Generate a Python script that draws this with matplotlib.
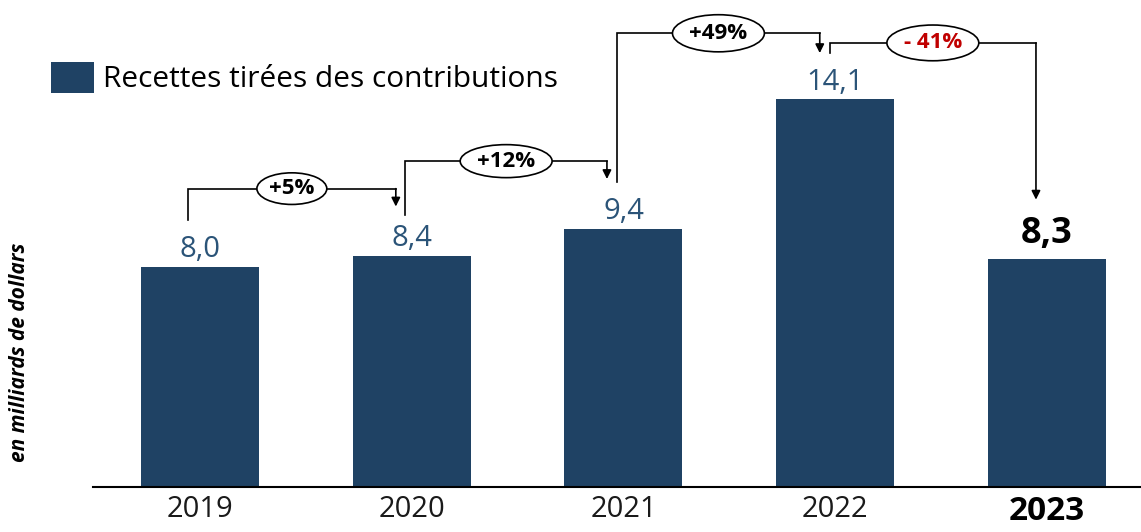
import matplotlib.pyplot as plt
from matplotlib.patches import Ellipse

# data
years = ["2019", "2020", "2021", "2022", "2023"]
values = [8.0, 8.4, 9.4, 14.1, 8.3]
value_labels = ["8,0", "8,4", "9,4", "14,1", "8,3"]
changes = ["+5%", "+12%", "+49%", "- 41%"]
change_colors = ["black", "black", "black", "#c00000"]
legend_label = "Recettes tirées des contributions"
y_label = "en milliards de dollars"

BAR_COLOR = "#1f4264"
LABEL_COLOR = "#2b5478"

plt.rcParams["font.family"] = ["Open Sans", "DejaVu Sans"]

W, H = 1141, 532
fig = plt.figure(figsize=(W / 100, H / 100), dpi=100)
ax = fig.add_axes([93 / W, 45 / H, 1048 / W, 487 / H])

x = list(range(len(years)))
bars = ax.bar(x, values, width=0.557, color=BAR_COLOR, label=legend_label, zorder=2)
ax.set_xlim(-0.505, 4.444)
ax.set_ylim(0, 17.71)

# value labels above the bars (last one highlighted)
for i, (v, lab) in enumerate(zip(values, value_labels)):
    last = i == len(values) - 1
    ax.annotate(
        lab,
        xy=(i, v),
        xytext=(0, 11.5 if last else 7),
        textcoords="offset points",
        ha="center",
        va="baseline",
        fontsize=26 if last else 21,
        fontweight="bold" if last else "normal",
        color="black" if last else LABEL_COLOR,
    )

# change connectors between consecutive bars
start_dx = [-0.057, -0.03, -0.03, -0.026]
end_dx = [-0.075, -0.078, -0.073, -0.052]
start_gap = [1.7, 1.5, 1.7, 1.7]
tip_gap = [1.8, 1.8, 1.68, 2.15]
link_gap = [2.45, 2.45, 2.4, 2.05]
oval_w = [0.33, 0.434, 0.434, 0.434]
oval_h = [1.15, 1.2, 1.35, 1.3]

for i, txt in enumerate(changes):
    xs = i + start_dx[i]
    xe = i + 1 + end_dx[i]
    ly = max(values[i], values[i + 1]) + link_gap[i]
    ax.plot(
        [xs, xs, xe],
        [values[i] + start_gap[i], ly, ly],
        color="black",
        linewidth=1.2,
        solid_joinstyle="miter",
        zorder=3,
    )
    ax.annotate(
        "",
        xy=(xe, values[i + 1] + tip_gap[i]),
        xytext=(xe, ly),
        arrowprops=dict(
            arrowstyle="-|>",
            color="black",
            lw=1.2,
            mutation_scale=13,
            shrinkA=0,
            shrinkB=0,
        ),
        zorder=3,
    )
    mx = (xs + xe) / 2
    ax.add_patch(
        Ellipse(
            (mx, ly),
            width=oval_w[i],
            height=oval_h[i],
            facecolor="white",
            edgecolor="black",
            linewidth=1.2,
            zorder=4,
        )
    )
    ax.text(
        mx,
        ly,
        txt,
        ha="center",
        va="center",
        fontsize=16,
        fontweight="bold",
        color=change_colors[i],
        zorder=5,
    )

# axes styling
ax.set_xticks(x, years)
ax.tick_params(axis="x", length=0, pad=6, labelsize=21, labelcolor="#1a1a1a")
last_tick = ax.get_xticklabels()[-1]
last_tick.set_fontweight("bold")
last_tick.set_fontsize(24)
last_tick.set_color("black")
ax.set_yticks([])
for side in ["top", "right", "left"]:
    ax.spines[side].set_visible(False)
ax.spines["bottom"].set_linewidth(1.5)
ax.spines["bottom"].set_color("black")

ax.legend(
    handles=[bars],
    loc="upper left",
    bbox_to_anchor=(51 / W, 1 - 62 / H),
    bbox_transform=fig.transFigure,
    frameon=False,
    fontsize=21.5,
    handlelength=1.45,
    handleheight=1.2,
    handletextpad=0.3,
    borderpad=0,
    borderaxespad=0,
)

fig.text(
    20 / W,
    1 - 352 / H,
    y_label,
    rotation=90,
    ha="center",
    va="center",
    fontsize=15,
    fontweight="bold",
    fontstyle="italic",
)

fig.savefig("out.png", dpi=100)
plt.close(fig)
